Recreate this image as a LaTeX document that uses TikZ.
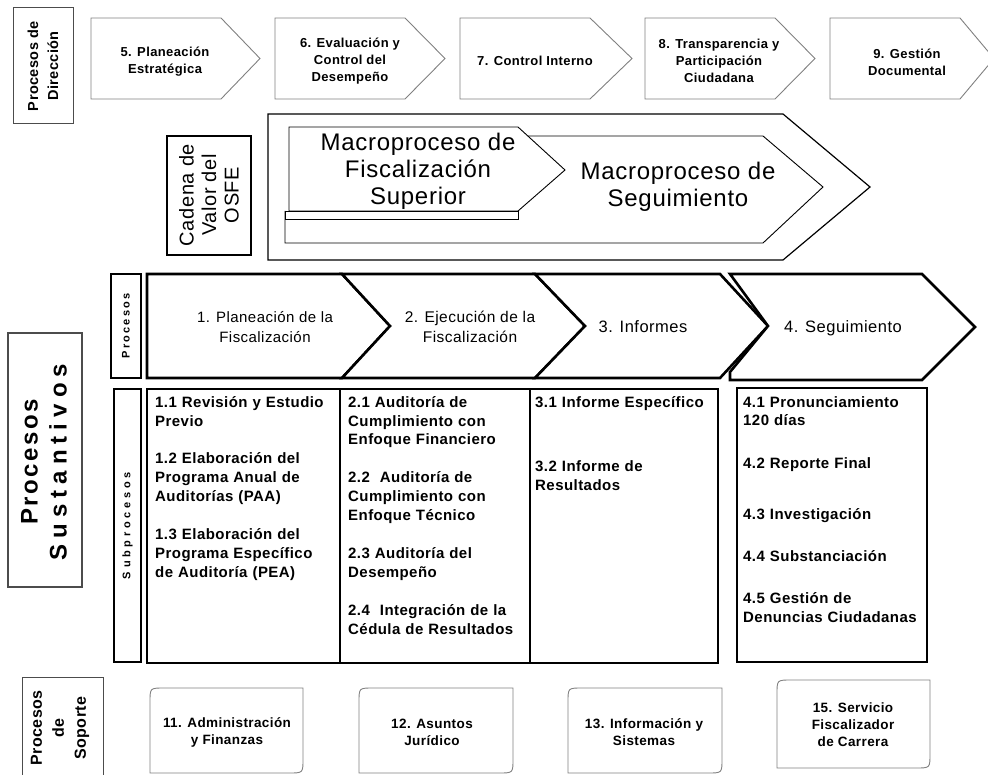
\documentclass[tikz,border=0pt]{standalone}
\usepackage{fontspec}
\usepackage{tikz}
\usetikzlibrary{calc}
\setmainfont{Liberation Sans}
\newfontfamily\lbl[LetterSpace=3]{Liberation Sans}
\newfontfamily\lblproc[LetterSpace=10]{Liberation Sans}
\newfontfamily\lblwide[LetterSpace=20]{Liberation Sans}
\newfontfamily\lblwider[LetterSpace=34]{Liberation Sans}
\newfontfamily\lblsust[LetterSpace=25]{Liberation Sans}
\definecolor{edge}{rgb}{0.5,0.5,0.5}
\definecolor{frame}{rgb}{0.3,0.3,0.3}

\begin{document}
\begin{tikzpicture}[x=1pt,y=-1pt,line join=miter,
	soft/.style={draw=edge,line width=0.9pt,fill=white},
	hard/.style={draw=black,line width=2.6pt,fill=white},
	dirtext/.style={align=center,font=\lbl\bfseries\fontsize{13}{17}\selectfont},
	proctext/.style={align=center,font=\lbl\fontsize{15}{20}\selectfont},
	subtext/.style={anchor=base west,text width=185pt,align=left,inner sep=0pt,font=\lbl\bfseries\fontsize{15}{19}\selectfont},
	soptext/.style={align=center,font=\lbl\bfseries\fontsize{13.5}{17}\selectfont}]
				\useasboundingbox (0,0) rectangle (988,775);
				\clip (0,0) rectangle (988,775);
				\coordinate (d5) at (91,18);%Planeacion Estrategica
				\coordinate (d6) at (275,18);%Evaluacion
				\coordinate (d7) at (460,18);%Control Interno
				\coordinate (d8) at (645,18);%Transparencia
				\coordinate (d9) at (830,18);%Gestion Documental
				
				% Procesos de Direccion
				\draw[draw=frame,line width=1pt] (13,8) rectangle (73,124);
				\node[rotate=90,align=center,font=\lbl\bfseries\fontsize{14.5}{20}\selectfont] (lbldir) at (43,66) {Procesos de\\Dirección};
				\filldraw[soft] (d5) -- ++(130,0) -- ++(39,40.5) -- ++(-39,40.5) -- ++(-130,0) -- cycle;
				\filldraw[soft] (d6) -- ++(130,0) -- ++(40,40.5) -- ++(-40,40.5) -- ++(-130,0) -- cycle;
				\filldraw[soft] (d7) -- ++(130,0) -- ++(42,40.5) -- ++(-42,40.5) -- ++(-130,0) -- cycle;
				\filldraw[soft] (d8) -- ++(130,0) -- ++(40,40.5) -- ++(-40,40.5) -- ++(-130,0) -- cycle;
				\filldraw[soft] (d9) -- ++(130,0) -- ++(34,40.5) -- ++(-34,40.5) -- ++(-130,0) -- cycle;
				\node[dirtext] (dir5) at ($(d5)+(74,44)$) {5. Planeación\\Estratégica};
				\node[dirtext] (dir6) at ($(d6)+(75,43)$) {6. Evaluación y\\Control del\\Desempeño};
				\node[dirtext] (dir7) at ($(d7)+(75,43)$) {7. Control Interno};
				\node[dirtext] (dir8) at ($(d8)+(74,43)$) {8. Transparencia y\\Participación\\Ciudadana};
				\node[dirtext] (dir9) at ($(d9)+(77,44)$) {9. Gestión\\Documental};
				
				% Cadena de valor
				\draw[line width=2.4pt] (167,136) rectangle (251,255);
				\node[rotate=90,align=center,font=\lbl\fontsize{20}{22.5}\selectfont] (cadena) at (209,195) {Cadena de\\Valor del\\OSFE};
				\draw[line width=1.2pt] (268,114) -- (783,114) -- (870,187) -- (783,260) -- (268,260) -- cycle;
				\draw[line width=0.9pt] (400,136) -- (763,136) -- (823,187) -- (763,243) -- (285,243) -- (285,211);
				\draw[line width=0.9pt] (285,211) rectangle (518,219);
				\filldraw[line width=0.9pt,fill=white] (289,127) -- (518,127) -- (565,170) -- (518,211) -- (289,211) -- cycle;
				\node[align=center,font=\lbl\fontsize{24}{27}\selectfont] (macrofis) at (418,171) {Macroproceso de\\Fiscalización\\Superior};
				\node[align=center,font=\lbl\fontsize{24}{27}\selectfont] (macroseg) at (678,187) {Macroproceso de\\Seguimiento};
				
				% Procesos sustantivos
				\draw[draw=frame,line width=1.1pt] (8,333) rectangle (82,587);
				\node[rotate=90,align=center,font=\lblproc\bfseries\fontsize{24}{29}\selectfont] (sust) at (44,462) {Procesos\\{\lblsust\bfseries Sustantivos}};
				\draw[hard] (111,274) rectangle (141,378);
				\node[rotate=90,font=\lblwide\bfseries\fontsize{11}{13}\selectfont] (lblproc) at (126,326) {Procesos};
				\draw[hard] (114,389) rectangle (141,662);
				\node[rotate=90,font=\lblwider\bfseries\fontsize{11}{13}\selectfont] (lblsub) at (127.5,525.5) {Subprocesos};
				
				\filldraw[hard] (147,274) -- (342,274) -- (390,326) -- (342,378) -- (147,378) -- cycle;
				\filldraw[hard] (342,274) -- (535,274) -- (585,326) -- (535,378) -- (342,378) -- (390,326) -- cycle;
				\filldraw[hard] (535,274) -- (720,274) -- (768,326) -- (720,378) -- (535,378) -- (585,326) -- cycle;
				\filldraw[hard] (730,274) -- (922,274) -- (975,327) -- (922,380) -- (730,380) -- (730,372) -- (768,326) -- cycle;
				\node[proctext] (proc1) at (265,327) {1. Planeación de la\\Fiscalización};
				\node[proctext,font=\lbl\fontsize{15.5}{20}\selectfont] (proc2) at (470,327) {2. Ejecución de la\\Fiscalización};
				\node[proctext,font=\lbl\fontsize{16.5}{20}\selectfont] (proc3) at (643,327) {3. Informes};
				\node[proctext,font=\lbl\fontsize{16.5}{20}\selectfont] (proc4) at (843,328) {4. Seguimiento};
				
				\draw[hard,fill=none] (147,389) rectangle (340,663);
				\draw[hard,fill=none] (340,389) rectangle (530,663);
				\draw[hard,fill=none] (530,389) rectangle (718,663);
				\draw[hard,fill=none] (737,388) rectangle (927,662);
				\node[subtext] (sub1) at (155,407) {1.1 Revisión y Estudio\\Previo\\[19pt]1.2 Elaboración del\\Programa Anual de\\Auditorías (PAA)\\[19pt]1.3 Elaboración del\\Programa Específico\\de Auditoría (PEA)};
				\node[subtext] (sub2) at (348,407) {2.1 Auditoría de\\Cumplimiento con\\Enfoque Financiero\\[19pt]2.2~~Auditoría de\\Cumplimiento con\\Enfoque Técnico\\[19pt]2.3 Auditoría del\\Desempeño\\[19pt]2.4~~Integración de la\\Cédula de Resultados};
				\node[subtext] (sub3) at (535,407) {3.1 Informe Específico\\[46pt]3.2 Informe de\\Resultados};
				\node[subtext,font=\lbl\bfseries\fontsize{15}{18}\selectfont] (sub4) at (743,407) {4.1 Pronunciamiento\\120 días\\[26pt]4.2 Reporte Final\\[32pt]4.3 Investigación\\[24pt]4.4 Substanciación\\[25pt]4.5 Gestión de\\Denuncias Ciudadanas};
				
				% Procesos de soporte
				\draw[draw=frame,line width=1pt] (22,677) rectangle (103,790);
				\node[rotate=90,align=center,font=\lbl\bfseries\fontsize{16}{22}\selectfont] (lblsop) at (60,728) {Procesos\\de\\Soporte};
				\filldraw[soft] (150,773) -- (150,702) .. controls (150,688) .. (164,688) -- (303,688) -- (303,759) .. controls (303,773) .. (289,773) -- cycle;
				\filldraw[soft] (359,773) -- (359,702) .. controls (359,688) .. (373,688) -- (513,688) -- (513,759) .. controls (513,773) .. (499,773) -- cycle;
				\filldraw[soft] (568,773) -- (568,702) .. controls (568,688) .. (582,688) -- (722,688) -- (722,759) .. controls (722,773) .. (708,773) -- cycle;
				\filldraw[soft] (777,768) -- (777,694) .. controls (777,680) .. (791,680) -- (930,680) -- (930,754) .. controls (930,768) .. (916,768) -- cycle;
				\node[soptext] (sop11) at (227,732) {11. Administración\\y Finanzas};
				\node[soptext] (sop12) at (432,732) {12. Asuntos\\Jurídico};
				\node[soptext] (sop13) at (644,732) {13. Información y\\Sistemas};
				\node[soptext] (sop15) at (853,725) {15. Servicio\\Fiscalizador\\de Carrera};
			\end{tikzpicture}
\end{document}
